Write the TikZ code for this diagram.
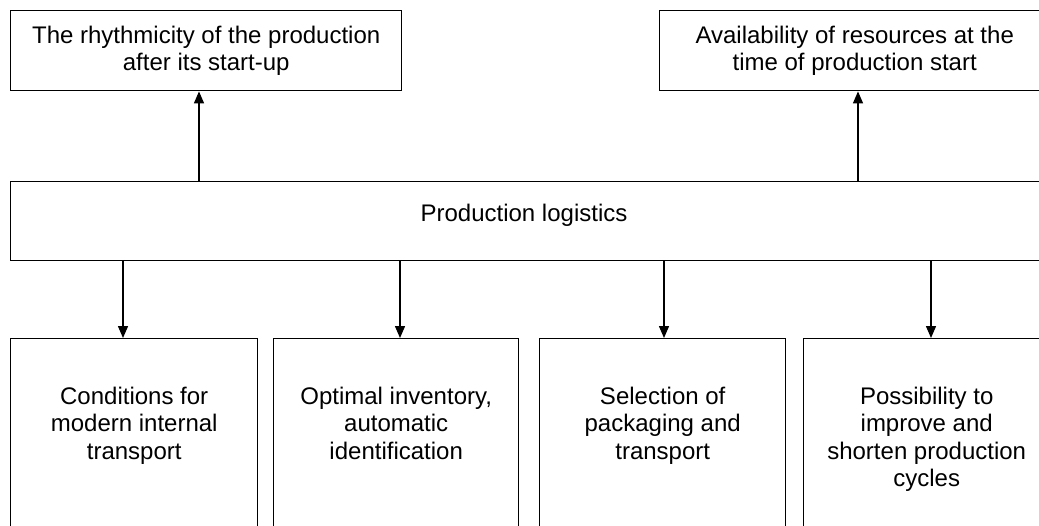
\documentclass[tikz,border=0pt]{standalone}
\usepackage{fontspec}
\setmainfont{Liberation Sans}
\usetikzlibrary{arrows.meta}
\begin{document}
\begin{tikzpicture}[x=1pt,y=-1pt,
  box/.style={draw, line width=1.4pt, anchor=north west, inner sep=0pt},
  txt/.style={align=center, font=\fontsize{24}{27.6}\selectfont, inner sep=0pt},
  arr/.style={line width=1.4pt, -{Triangle[width=10pt,length=12pt]}}]
\clip (0,0) rectangle (1039,525);
\fill[white] (0,0) rectangle (1039,525);
% top boxes
\node[box, txt, minimum width=391pt, minimum height=80pt] (t1) at (10,10)
  {The rhythmicity of the production\\after its start-up};
\node[box, txt, minimum width=390pt, minimum height=80pt] (t2) at (659,10)
  {Availability of resources at the\\time of production start};
% central box
\node[box, minimum width=1035pt, minimum height=79pt] (pl) at (10,181) {};
\node[txt, anchor=base] (plt) at (524,221) {Production logistics};
% bottom boxes
\node[box, minimum width=247pt, minimum height=220pt] (b1) at (10,338) {};
\node[box, minimum width=245pt, minimum height=220pt] (b2) at (273,338) {};
\node[box, minimum width=246pt, minimum height=220pt] (b3) at (539,338) {};
\node[box, minimum width=246pt, minimum height=220pt] (b4) at (803,338) {};
\node[txt, anchor=north] (b1t) at ([yshift=-48.5pt]b1.north) {Conditions for\\modern internal\\transport};
\node[txt, anchor=north] (b2t) at ([yshift=-48.5pt]b2.north) {Optimal inventory,\\automatic\\identification};
\node[txt, anchor=north] (b3t) at ([yshift=-48.5pt]b3.north) {Selection of\\packaging and\\transport};
\node[txt, anchor=north] (b4t) at ([yshift=-48.5pt]b4.north) {Possibility to\\improve and\\shorten production\\cycles};
% connector x positions
\coordinate (u1) at (199,0);
\coordinate (u2) at (858,0);
\coordinate (d1) at (123,0);
\coordinate (d2) at (400,0);
\coordinate (d3) at (664,0);
\coordinate (d4) at (931,0);
\draw[arr] (pl.north -| u1) -- (t1.south -| u1);
\draw[arr] (pl.north -| u2) -- (t2.south -| u2);
\draw[arr] (pl.south -| d1) -- (b1.north -| d1);
\draw[arr] (pl.south -| d2) -- (b2.north -| d2);
\draw[arr] (pl.south -| d3) -- (b3.north -| d3);
\draw[arr] (pl.south -| d4) -- (b4.north -| d4);
\end{tikzpicture}
\end{document}
